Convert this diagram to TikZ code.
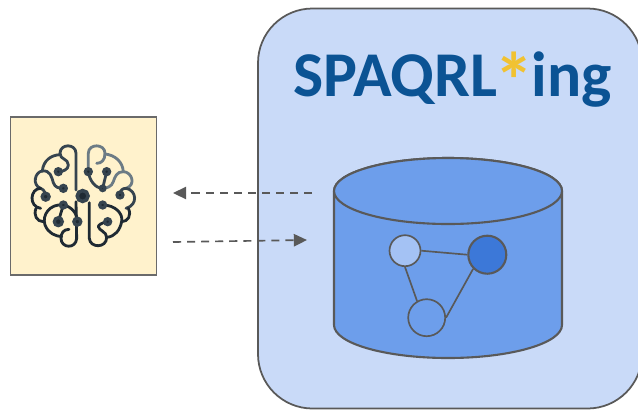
\documentclass[tikz,border=0pt]{standalone}
\usepackage{fontspec}
\setmainfont{Carlito}
\usetikzlibrary{arrows.meta}

\definecolor{panelblue}{HTML}{C9DAF8}
\definecolor{cylblue}{HTML}{6D9EEB}
\definecolor{lightblue}{HTML}{A4C2F4}
\definecolor{darkblue}{HTML}{3C78D8}
\definecolor{boxyellow}{HTML}{FFF2CC}
\definecolor{titleblue}{HTML}{0B5394}
\definecolor{stargold}{HTML}{F1C232}
\definecolor{linegrey}{HTML}{595959}
\definecolor{braindark}{HTML}{1F2A33}
\definecolor{brainmid}{HTML}{36444F}
\definecolor{brainlight}{HTML}{6C7B85}

\tikzset{
  graphnode/.style={circle, draw=linegrey, line width=0.95pt, inner sep=0pt},
  flow/.style={draw=linegrey, line width=0.95pt, dash pattern=on 4.6pt off 3.4pt, -{Triangle[length=7.5pt,width=7pt]}},
  wire/.style={line width=1.6pt, line cap=round, line join=round},
  dot/.style={circle, inner sep=0pt, minimum size=3.4pt, fill=braindark, draw=brainmid, line width=1.8pt}
}

\begin{document}
\begin{tikzpicture}[x=0.02cm, y=-0.02cm]
            \useasboundingbox (0,0) rectangle (638,410);

            % Panel and title
            \node[draw=linegrey, line width=1pt, fill=panelblue, rounded corners=31pt,
                  minimum width=384*0.02cm, minimum height=400*0.02cm, inner sep=0pt] (panel) at (450,208.5) {};
            \node[text=titleblue, font=\fontsize{36.3}{40}\selectfont\bfseries, inner sep=0pt, anchor=base] (title) at (452.5,96.7)
                {SPAQRL\kern-1.5pt\raisebox{-6.7pt}{\textcolor{stargold}{\fontsize{45}{45}\selectfont *}}\kern-1.5pt ing};

            % Yellow box
            \node[draw=linegrey!90, line width=1pt, fill=boxyellow, minimum width=146*0.02cm,
                  minimum height=158*0.02cm, inner sep=0pt] (agent) at (83.5,196) {};

            % Cylinder
            \draw[draw=linegrey, line width=1.2pt, fill=cylblue]
                (334,191) -- (334,325) arc[start angle=180, end angle=360, x radius=114, y radius=-33]
                -- (562,191) arc[start angle=0, end angle=180, x radius=114, y radius=-33] -- cycle;
            \draw[draw=linegrey, line width=1.2pt, fill=cylblue] (448,191) ellipse[x radius=114, y radius=33];

            % Graph in the cylinder
            \node[graphnode, fill=lightblue, minimum size=31*0.02cm] (N1) at (405,250.7) {};
            \node[graphnode, fill=darkblue, line width=1.2pt, minimum size=38*0.02cm] (N2) at (487.3,254.7) {};
            \node[graphnode, fill=cylblue, minimum size=37*0.02cm] (N3) at (426.7,317.7) {};
            \draw[draw=linegrey, line width=0.95pt] (N1.east) -- (N2.west);
            \draw[draw=linegrey, line width=0.95pt] (N1.south) -- (N3.120);
            \draw[draw=linegrey, line width=0.95pt] (N2.225) -- (N3.east);

            % Dashed arrows
            \coordinate (outTail) at (312,193);
            \coordinate (outHead) at (173,193);
            \coordinate (inTail) at (173,242);
            \coordinate (inHead) at (307,240);
            \draw[flow] (outTail) -- (outHead);
            \draw[flow] (inTail) -- (inHead);

            % Brain, in the coordinates of a 3x crop
            \begin{scope}[shift={(0,110)}, x=0.02cm/3, y=-0.02cm/3]
                % left half
                \draw[wire, brainmid] (228,240) -- (228,130) .. controls (228,100) and (180,100) .. (180,130)
                    .. controls (180,150) and (205,145) .. (205,165) .. controls (205,178) and (190,185) .. (175,185);
                \draw[wire, brainmid] (180,134) .. controls (155,135) and (130,150) .. (127,183)
                    .. controls (105,185) and (95,225) .. (122,235) .. controls (135,240) and (135,250) .. (137,260);
                \draw[wire, brainmid] (127,183) .. controls (150,180) and (155,200) .. (160,218) .. controls (165,232) and (175,235) .. (190,235);
                \draw[wire, braindark] (122,235) .. controls (90,235) and (85,290) .. (122,295);
                \draw[wire, braindark] (108,295) .. controls (100,315) and (110,335) .. (130,335);
                \draw[wire, braindark] (190,285) .. controls (150,280) and (125,315) .. (135,345)
                    .. controls (145,370) and (165,378) .. (185,380);
                \draw[wire, braindark] (190,285) .. controls (215,290) and (232,310) .. (232,335);
                \draw[wire, braindark] (190,285) -- (175,335);
                \draw[wire, braindark] (207,358) .. controls (190,358) and (183,370) .. (183,385)
                    .. controls (183,415) and (228,418) .. (230,385) -- (228,275);
                % right half
                \draw[wire, brainlight] (265,185) -- (265,130) .. controls (265,100) and (315,100) .. (315,130)
                    .. controls (315,150) and (305,160) .. (290,160);
                \draw[wire, brainlight] (315,132) .. controls (345,135) and (368,155) .. (370,185)
                    .. controls (395,185) and (410,225) .. (378,235);
                \draw[wire, brainlight] (370,185) .. controls (350,185) and (345,200) .. (340,215) .. controls (335,230) and (320,235) .. (308,235);
                \draw[wire, brainmid] (265,185) .. controls (268,210) and (285,235) .. (308,235) -- (320,185);
                \draw[wire, brainmid] (360,255) .. controls (360,240) and (368,235) .. (378,235)
                    .. controls (410,240) and (415,285) .. (378,295);
                \draw[wire, braindark] (308,285) .. controls (345,285) and (370,310) .. (365,335);
                \draw[wire, braindark] (385,295) .. controls (395,315) and (385,335) .. (365,335)
                    .. controls (360,360) and (345,380) .. (320,382);
                \draw[wire, braindark] (323,335) .. controls (305,338) and (295,345) .. (295,350)
                    .. controls (297,362) and (320,365) .. (320,382) .. controls (320,415) and (270,415) .. (268,385) -- (268,278);
                % dots
                \node[dot] (d1) at (175,185) {};
                \node[dot] (d2) at (190,235) {};
                \node[dot, minimum size=4pt] (d3) at (137,260) {};
                \node[dot] (d4) at (190,285) {};
                \node[dot, minimum size=4.6pt] (d5) at (175,335) {};
                \node[dot, minimum size=4pt] (d6) at (232,335) {};
                \node[dot] (d7) at (265,185) {};
                \node[dot] (d8) at (320,185) {};
                \node[dot, minimum size=2.6pt] (d9) at (308,235) {};
                \node[dot] (d10) at (360,255) {};
                \node[dot] (d11) at (308,285) {};
                \node[dot] (d12) at (323,335) {};
                \node[dot, minimum size=6.2pt, line width=2pt] (hub) at (248,258) {};
            \end{scope}
        \end{tikzpicture}
\end{document}
